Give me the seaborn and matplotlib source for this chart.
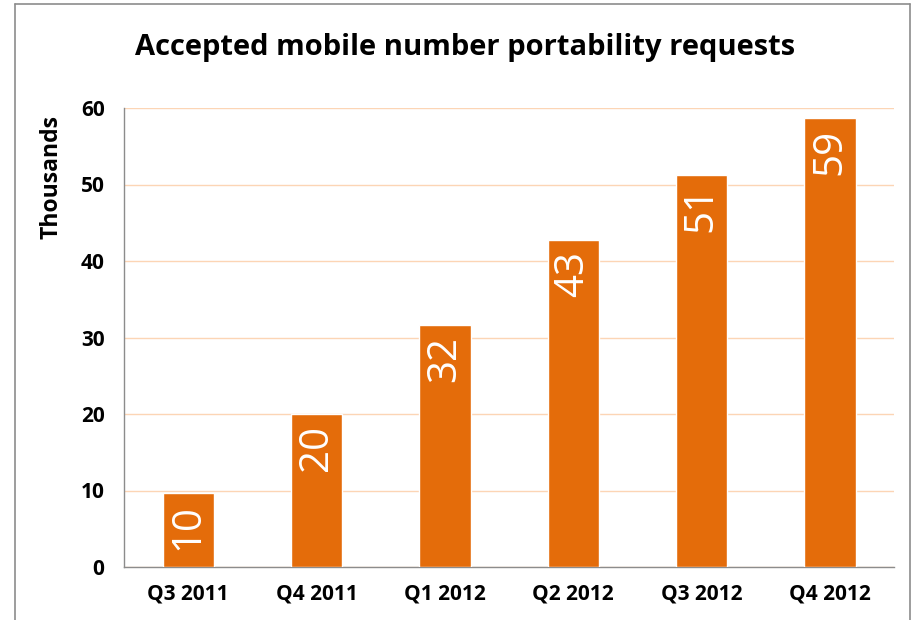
import matplotlib
matplotlib.use("Agg")
import matplotlib.pyplot as plt
import seaborn as sns
import numpy as np
import pandas as pd
from matplotlib.lines import Line2D

quarters = ["Q3 2011", "Q4 2011", "Q1 2012", "Q2 2012", "Q3 2012", "Q4 2012"]
requests = [9.7, 20.0, 31.6, 42.7, 51.3, 58.7]
bar_labels = ["10", "20", "32", "43", "51", "59"]

sns.set_style("white")
plt.rcParams['font.family'] = ['Open Sans', 'DejaVu Sans']
plt.rcParams['text.color'] = 'black'

df = pd.DataFrame({"quarter": quarters, "requests": requests})

fig = plt.figure(figsize=(9.14, 6.20), dpi=100)
ax = fig.add_axes([124/914, 1-567/620, (894-124)/914, (567-108)/620])

sns.barplot(data=df, x="quarter", y="requests", color="#E46C0A", saturation=1,
            width=0.4, ax=ax, zorder=3)

ax.set_ylim(0, 60)
ax.set_xlim(-0.5, 5.5)
ax.set_yticks(range(0, 61, 10))
ax.yaxis.grid(True, color="#FCD5B5", linewidth=1, zorder=0)
ax.set_axisbelow(True)

# category boundary ticks on x, labels in the middle
ax.set_xticks(np.arange(-0.5, 6, 1))
ax.set_xticklabels([])
ax.set_xticks(range(len(quarters)), minor=True)
ax.set_xticklabels(quarters, minor=True)
ax.tick_params(axis="x", which="major", length=8, color="#8C8C8C", width=1, direction="out")
ax.tick_params(axis="x", which="minor", length=0, pad=12)
ax.tick_params(axis="y", length=7, color="#8C8C8C", width=1, direction="out", pad=7)
for lab in ax.get_xticklabels(minor=True) + ax.get_yticklabels():
    lab.set_fontweight("bold")
    lab.set_fontsize(15)
    lab.set_color("black")

for s in ["top", "right"]:
    ax.spines[s].set_visible(False)
for s in ["left", "bottom"]:
    ax.spines[s].set_color("#8C8C8C")
    ax.spines[s].set_linewidth(1)

ax.set_xlabel("")
ax.set_ylabel("Thousands", fontsize=16.5, fontweight="bold", color="black")
ax.yaxis.set_label_coords(-0.078, 0.85)

for i, (v, t) in enumerate(zip(requests, bar_labels)):
    ax.annotate(t, (i, v), xytext=(0, -8), textcoords="offset points",
                rotation=90, ha="center", va="top", color="white", fontsize=29)

fig.text(465/914, 1-47/620, "Accepted mobile number portability requests",
         ha="center", va="center", fontsize=21, fontweight="bold", color="black")

# outer frame (left, top, right)
fc = "#8C8C8C"
fig.add_artist(Line2D([15/914, 15/914], [0, 1-4/620], transform=fig.transFigure, color=fc, lw=1.2))
fig.add_artist(Line2D([15/914, 910/914], [1-4/620, 1-4/620], transform=fig.transFigure, color=fc, lw=1.2))
fig.add_artist(Line2D([910/914, 910/914], [0, 1-4/620], transform=fig.transFigure, color=fc, lw=1.2))

fig.savefig("out.png", dpi=100)
